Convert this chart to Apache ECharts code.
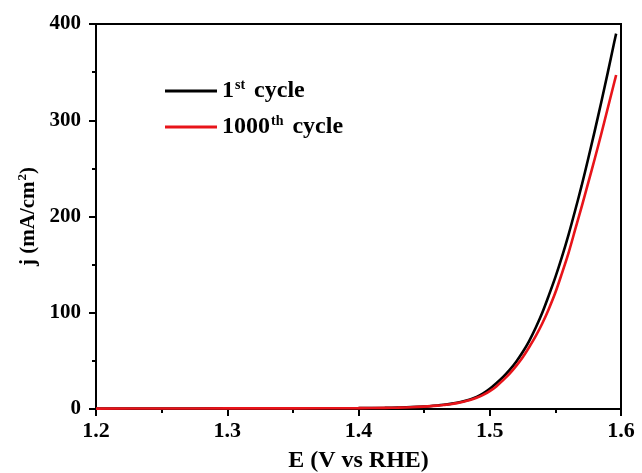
<!DOCTYPE html>
<html>
<head>
<meta charset="utf-8">
<script src="https://cdn.jsdelivr.net/npm/echarts@6/dist/echarts.min.js"></script>
<style>
  html, body { margin: 0; padding: 0; background: #fff; }
  #chart { width: 642px; height: 473px; }
</style>
</head>
<body>
<div id="chart"></div>
<script>
// Polarization curves: potential (V vs RHE) against current density (mA/cm2)
const seriesNames = ['1st cycle', '1000th cycle'];

const potentialFirst = [1.20, 1.25, 1.30, 1.35, 1.40, 1.42, 1.43, 1.44, 1.45, 1.46, 1.465, 1.47, 1.475, 1.48, 1.485, 1.49, 1.495, 1.50, 1.505, 1.51, 1.515, 1.52, 1.525, 1.53, 1.535, 1.54, 1.545, 1.55, 1.555, 1.56, 1.565, 1.57, 1.575, 1.58, 1.585, 1.59, 1.595, 1.5963];
const currentFirst   = [0.4, 0.5, 0.6, 0.7, 0.9, 1.2, 1.5, 1.9, 2.6, 3.7, 4.4, 5.3, 6.5, 8.0, 9.9, 12.6, 16.2, 21, 26.8, 33.1, 40.4, 48.9, 58.9, 70.6, 84.4, 100, 118, 137, 158, 181, 206, 232, 260, 289, 319, 350, 382, 390];

const potentialLast = [1.20, 1.25, 1.30, 1.35, 1.40, 1.42, 1.43, 1.44, 1.45, 1.46, 1.465, 1.47, 1.475, 1.48, 1.485, 1.49, 1.495, 1.50, 1.505, 1.51, 1.515, 1.52, 1.525, 1.53, 1.535, 1.54, 1.545, 1.55, 1.555, 1.56, 1.565, 1.57, 1.575, 1.58, 1.585, 1.59, 1.595, 1.5963];
const currentLast   = [0.4, 0.5, 0.6, 0.7, 0.9, 1.2, 1.4, 1.8, 2.5, 3.5, 4.2, 5.0, 6.1, 7.6, 9.4, 11.6, 14.6, 18.6, 23.5, 29.8, 36.5, 44.5, 53.5, 64.1, 75.6, 88.8, 104, 121, 141, 162, 186, 210, 235, 260, 286, 313, 340, 347];

const seriesColors = ['#000000', '#e8141a'];

function pairs(xs, ys) {
  return xs.map((x, i) => [x, ys[i]]);
}

// "1st cycle" -> rich text with a raised ordinal suffix
function ordinalRich(name) {
  const m = name.match(/^(\d+)(st|nd|rd|th)(.*)$/);
  if (!m) return '{n|' + name + '}';
  return '{n|' + m[1] + '}{s|' + m[2] + '}{n|' + m[3] + '}';
}

const serif = '"Liberation Serif", "Times New Roman", serif';
const chart = echarts.init(document.getElementById('chart'), null, { renderer: 'canvas' });

// fresh style objects for each axis part
const blackStroke = () => ({ color: '#000', width: 2, type: 'solid' });

chart.setOption({
  animation: false,
  backgroundColor: '#fff',
  grid: {
    left: 96, right: 21, top: 24, bottom: 64,
    outerBoundsMode: 'none', containLabel: false,
    show: true, borderColor: '#000', borderWidth: 2, backgroundColor: 'transparent'
  },
  legend: {
    left: 160, top: 73, orient: 'vertical',
    itemWidth: 52, itemHeight: 3, itemGap: 10, icon: 'rect',
    data: seriesNames,
    formatter: ordinalRich,
    textStyle: {
      rich: {
        n: { fontFamily: serif, fontWeight: 'bold', fontSize: 24, lineHeight: 26, color: '#000' },
        s: { fontFamily: serif, fontWeight: 'bold', fontSize: 14, lineHeight: 26, color: '#000', verticalAlign: 'top', padding: [0, 3, 12, 1] }
      }
    }
  },
  xAxis: {
    type: 'value', min: 1.2, max: 1.6, interval: 0.1,
    name: 'E (V vs RHE)', nameLocation: 'middle', nameGap: 40,
    nameTextStyle: { fontFamily: serif, fontWeight: 'bold', fontSize: 24, color: '#000' },
    axisLine: { show: true, onZero: false, lineStyle: blackStroke() },
    axisTick: { show: true, interval: 0, inside: false, length: 7, lineStyle: blackStroke() },
    minorTick: { show: true, splitNumber: 2, length: 4, lineStyle: blackStroke() },
    axisLabel: {
      show: true, margin: 11, fontFamily: serif, fontWeight: 'bold', fontSize: 22, color: '#000',
      formatter: v => v.toFixed(1)
    },
    splitLine: { show: false }, minorSplitLine: { show: false }
  },
  yAxis: {
    type: 'value', min: 0, max: 400, interval: 100,
    name: '{t|j (mA/cm}{s|2}{t|)}', nameLocation: 'middle', nameGap: 54, nameRotate: 90,
    nameTextStyle: {
      rich: {
        t: { fontFamily: serif, fontWeight: 'bold', fontSize: 21, color: '#000' },
        s: { fontFamily: serif, fontWeight: 'bold', fontSize: 13, color: '#000', verticalAlign: 'top', padding: [0, 0, 10, 1] }
      }
    },
    axisLine: { show: true, onZero: false, lineStyle: blackStroke() },
    axisTick: { show: true, interval: 0, inside: false, length: 7, lineStyle: blackStroke() },
    minorTick: { show: true, splitNumber: 2, length: 4, lineStyle: blackStroke() },
    axisLabel: {
      show: true, margin: 15, fontFamily: serif, fontWeight: 'bold', fontSize: 21, color: '#000'
    },
    splitLine: { show: false }, minorSplitLine: { show: false }
  },
  series: [
    {
      name: seriesNames[0], type: 'line',
      data: pairs(potentialFirst, currentFirst),
      smooth: 0.3, showSymbol: false, symbol: 'none',
      lineStyle: { color: seriesColors[0], width: 2.6 },
      itemStyle: { color: seriesColors[0] }
    },
    {
      name: seriesNames[1], type: 'line',
      data: pairs(potentialLast, currentLast),
      smooth: 0.3, showSymbol: false, symbol: 'none',
      lineStyle: { color: seriesColors[1], width: 2.6 },
      itemStyle: { color: seriesColors[1] }
    }
  ]
});
</script>
</body>
</html>
